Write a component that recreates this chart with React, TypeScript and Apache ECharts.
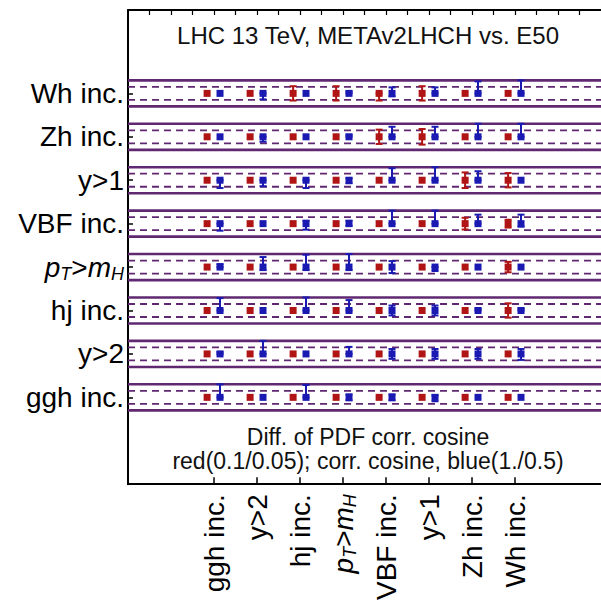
import React, { useEffect, useRef } from 'react';
import * as echarts from 'echarts';

// Processes (same order on both axes: x left->right, y bottom->top)
const categories = ['ggh inc.', 'y>2', 'hj inc.', 'pT>mH', 'VBF inc.', 'y>1', 'Zh inc.', 'Wh inc.'];
const catPos = [2, 3, 4, 5, 6, 7, 8, 9];
const topMinorTicks = [0.5, 1, 1.5, 2, 2.5, 3, 3.5, 4, 4.5, 5, 5.5, 6, 6.5, 7, 7.5, 8, 8.5, 9, 9.5, 10, 10.5];

const titleText = 'LHC 13 TeV, METAv2LHCH vs. E50';
const noteLine1 = 'Diff. of PDF corr. cosine';
const noteLine2 = 'red(0.1/0.05); corr. cosine, blue(1./0.5)';

// scale: solid band line = redFull / blueFull, dashed = half
const redFull = 0.1;
const blueFull = 1.0;
const bandHalf = 0.3; // axis units for the solid line

// rows indexed by category (bottom -> top), columns by category (left -> right)
const redLo = [
  [0, 0, 0, 0, 0, 0, 0, 0],
  [0, 0, 0, 0, 0, 0, 0, 0],
  [0, 0, 0, 0, 0, 0, 0, -0.055],
  [0, 0, 0, 0, 0, 0, 0, -0.04],
  [0, 0, 0, 0, 0, 0, -0.045, -0.03],
  [0, 0, 0, 0, 0, 0, -0.06, -0.055],
  [0, 0, 0, 0, -0.055, -0.06, 0, 0],
  [0, 0, -0.055, -0.055, -0.055, -0.055, 0, 0],
];
const redHi = [
  [0, 0, 0, 0, 0, 0, 0, 0],
  [0, 0, 0, 0, 0, 0, 0, 0],
  [0, 0, 0, 0, 0, 0, 0, 0.055],
  [0, 0, 0, 0, 0, 0, 0, 0.04],
  [0, 0, 0, 0, 0, 0, 0.045, 0.03],
  [0, 0, 0, 0, 0, 0, 0.06, 0.055],
  [0, 0, 0, 0, 0.055, 0.06, 0, 0],
  [0, 0, 0.055, 0.055, 0, 0.055, 0, 0],
];
const blueLo = [
  [0, 0, 0, -0.23, -0.23, -0.3, 0, 0],
  [0, 0, 0, 0, -0.38, -0.38, -0.38, -0.46],
  [0, 0, 0, 0, -0.38, -0.38, 0, 0],
  [0, -0.23, -0.23, -0.23, -0.46, -0.3, 0, 0],
  [-0.54, 0, -0.46, -0.15, 0, 0, 0, -0.23],
  [-0.6, -0.46, -0.6, -0.23, 0, 0, 0, 0],
  [0, -0.38, 0, 0, 0, 0, 0, 0],
  [0, -0.46, 0, 0, -0.23, 0, 0, 0],
];
const blueHi = [
  [1.0, 0, 0.95, 0.23, 0.23, 0.15, 0, 0],
  [0.15, 1.0, 0, 0.54, 0.38, 0.38, 0.38, 0.38],
  [0.95, 0, 1.0, 0.8, 0.38, 0.38, 0.15, 0.15],
  [0.23, 0.77, 0.95, 1.0, 0.46, 0, 0, 0],
  [0, 0, 0.23, 0.23, 1.0, 1.0, 0.69, 0.69],
  [0, 0, 0, 0.15, 0.92, 1.0, 0.69, 0],
  [0, 0, 0, 0.15, 0.77, 0.77, 1.0, 1.0],
  [0, 0, 0, 0.15, 0.46, 0.46, 0.92, 1.0],
];

const RED = '#b01414';
const BLUE = '#1a1ab2';
const PURPLE = '#5f2870';
const FONT = 'Liberation Sans, Arial, Helvetica, sans-serif';
const redOffset = -0.16;
const blueOffset = 0.14;
const LABEL_SIZE = 28;

function labelFmt(v: number) {
  const s = categories[Math.round(v) - 2];
  if (s === 'pT>mH') return '{i|p}{s|T}{n|>}{i|m}{s|H}';
  return s;
}

const richStyles = {
  i: { fontStyle: 'italic', fontSize: LABEL_SIZE, lineHeight: 31, fontFamily: FONT, color: '#000' },
  s: { fontStyle: 'italic', fontSize: 18, lineHeight: 14, verticalAlign: 'bottom', fontFamily: FONT, color: '#000' },
  n: { fontSize: LABEL_SIZE, lineHeight: 31, fontFamily: FONT, color: '#000' },
};

function buildBars(lo: number[][], hi: number[][], full: number, off: number) {
  const out: number[][] = [];
  for (let i = 0; i < catPos.length; i++) {
    for (let j = 0; j < catPos.length; j++) {
      out.push([catPos[j] + off, catPos[i], (lo[i][j] / full) * bandHalf, (hi[i][j] / full) * bandHalf]);
    }
  }
  return out;
}

export default function App() {
  const ref = useRef<HTMLDivElement>(null);
  useEffect(() => {
    const chart = echarts.init(ref.current!, null, { renderer: 'svg' });
    const redBars = buildBars(redLo, redHi, redFull, redOffset);
    const blueBars = buildBars(blueLo, blueHi, blueFull, blueOffset);

    const barRender = (color: string) => (params: any, api: any) => {
      const x = api.value(0);
      const y = api.value(1);
      const lo = api.value(2);
      const hi = api.value(3);
      const children: any[] = [];
      const c = api.coord([x, y]);
      if (hi - lo > 0.001) {
        const pLo = api.coord([x, y + lo]);
        const pHi = api.coord([x, y + hi]);
        const st = { stroke: color, lineWidth: 2 };
        children.push({ type: 'line', shape: { x1: pLo[0], y1: pLo[1], x2: pHi[0], y2: pHi[1] }, style: st });
        children.push({ type: 'line', shape: { x1: pLo[0] - 3.5, y1: pLo[1], x2: pLo[0] + 3.5, y2: pLo[1] }, style: st });
        children.push({ type: 'line', shape: { x1: pHi[0] - 3.5, y1: pHi[1], x2: pHi[0] + 3.5, y2: pHi[1] }, style: st });
      }
      children.push({ type: 'rect', shape: { x: c[0] - 3.5, y: c[1] - 3.5, width: 7, height: 7 }, style: { fill: color } });
      return { type: 'group', children };
    };

    const option: any = {
      animation: false,
      grid: { left: 128, top: 10, width: 480, height: 477.5, containLabel: false },
      xAxis: [
        {
          type: 'value', min: 0, max: 11, position: 'bottom',
          axisLine: { show: true, onZero: false, lineStyle: { color: '#000', width: 2 } },
          axisTick: { show: true, inside: true, length: 7, customValues: catPos, lineStyle: { color: '#000', width: 1.5 } },
          axisLabel: {
            show: true, customValues: catPos, rotate: 90, margin: 10, formatter: labelFmt,
            fontSize: LABEL_SIZE, fontFamily: FONT, color: '#000', rich: richStyles,
          },
          splitLine: { show: false },
        },
        {
          type: 'value', min: 0, max: 11, position: 'top',
          axisLine: { show: true, onZero: false, lineStyle: { color: '#000', width: 2 } },
          axisTick: { show: true, inside: true, length: 5, customValues: topMinorTicks, lineStyle: { color: '#000', width: 1.2 } },
          axisLabel: { show: false },
          splitLine: { show: false },
        },
      ],
      yAxis: [
        {
          type: 'value', min: 0, max: 10.92, position: 'left',
          axisLine: { show: true, onZero: false, lineStyle: { color: '#000', width: 2 } },
          axisTick: { show: true, inside: true, length: 5, customValues: catPos, lineStyle: { color: '#000', width: 1.5 } },
          axisLabel: {
            show: true, customValues: catPos, margin: 4, formatter: labelFmt,
            fontSize: LABEL_SIZE, fontFamily: FONT, color: '#000', rich: richStyles,
          },
          splitLine: { show: false },
        },
      ],
      graphic: [
        { type: 'text', x: 368, y: 35, style: { text: titleText, fill: '#111', font: `24px ${FONT}`, textAlign: 'center', textVerticalAlign: 'middle' } },
        { type: 'text', x: 368, y: 437, style: { text: noteLine1, fill: '#111', font: `23px ${FONT}`, textAlign: 'center', textVerticalAlign: 'middle' } },
        { type: 'text', x: 368, y: 460.5, style: { text: noteLine2, fill: '#111', font: `23px ${FONT}`, textAlign: 'center', textVerticalAlign: 'middle' } },
      ],
      series: [
        {
          type: 'custom', name: 'bands', xAxisIndex: 0, yAxisIndex: 0,
          data: catPos.map((p) => [p]),
          renderItem: (params: any, api: any) => {
            const y = api.value(0);
            const mk = (dy: number, dashed: boolean) => {
              const a = api.coord([0, y + dy]);
              const b = api.coord([11, y + dy]);
              return {
                type: 'line',
                shape: { x1: a[0], y1: a[1], x2: b[0], y2: b[1] },
                style: dashed
                  ? { stroke: PURPLE, lineWidth: 1.8, lineDash: [7, 5] }
                  : { stroke: PURPLE, lineWidth: 2.6 },
              };
            };
            return {
              type: 'group',
              children: [mk(bandHalf, false), mk(-bandHalf, false), mk(bandHalf / 2, true), mk(-bandHalf / 2, true)],
            };
          },
          z: 1,
        },
        { type: 'custom', name: 'red', data: redBars, renderItem: barRender(RED), z: 3 },
        { type: 'custom', name: 'blue', data: blueBars, renderItem: barRender(BLUE), z: 3 },
      ],
    };
    chart.setOption(option);
    return () => chart.dispose();
  }, []);
  return <div ref={ref} style={{ position: 'absolute', left: 0, top: 0, width: 601, height: 603 }} />;
}
